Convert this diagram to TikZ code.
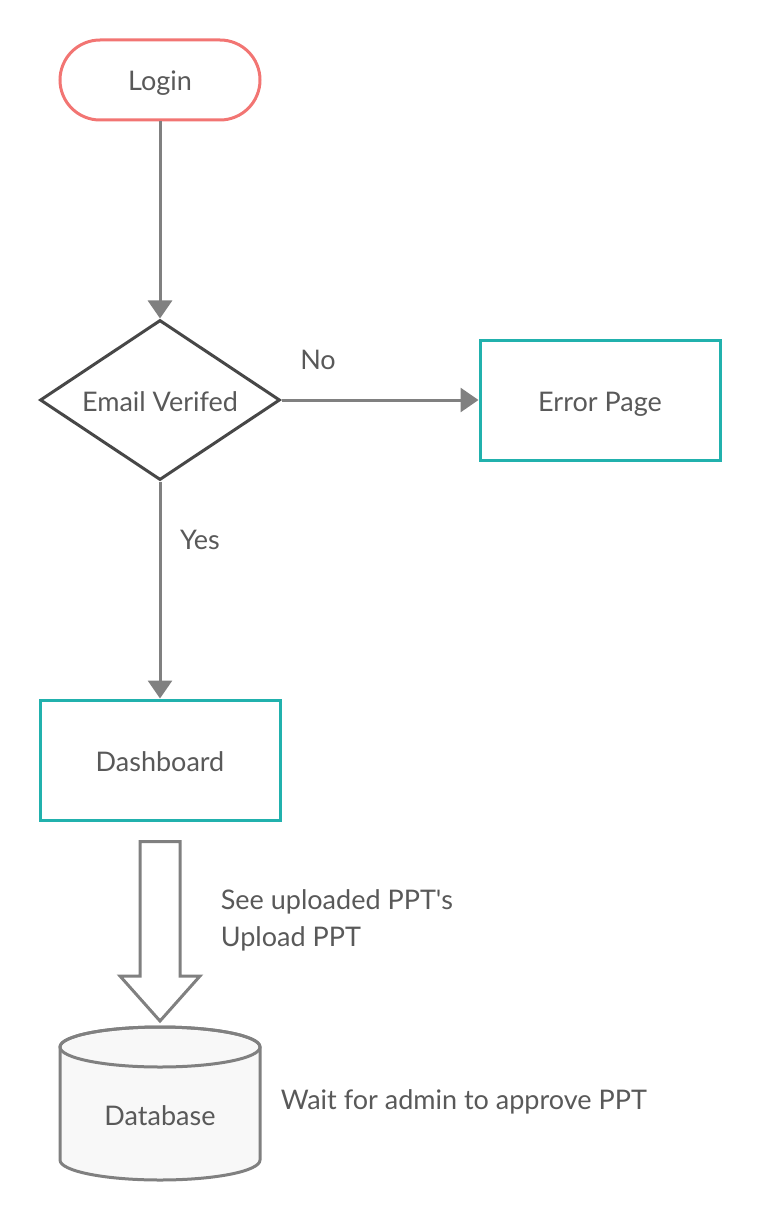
\documentclass[tikz,border=0pt]{standalone}
\usepackage{fontspec}
\setmainfont{Lato}
\usetikzlibrary{shapes.geometric,arrows.meta,calc}
\definecolor{salmon}{HTML}{F27573}
\definecolor{tealline}{HTML}{21B1AD}
\definecolor{darkline}{HTML}{474747}
\definecolor{arrowgray}{HTML}{808080}
\definecolor{textgray}{HTML}{595959}
\definecolor{dbfill}{HTML}{F8F8F8}

\begin{document}
\begin{tikzpicture}[x=1pt, y=-1pt, line width=3pt, text=textgray,
    font=\fontsize{27}{37}\selectfont,
    flow/.style={draw=arrowgray, -{Triangle[length=18pt, width=24pt]}},
    shapetext/.style={text height=22pt, text depth=0pt},
    pagebox/.style={shapetext, draw=tealline, rectangle, minimum width=240, minimum height=120}]
  \useasboundingbox (0,0) rectangle (760,1220);
  \node (login) [shapetext, draw=salmon, rectangle, rounded corners=40pt, minimum width=200, minimum height=80] at (160,80) {Login};
  \node (check) [shapetext, draw=darkline, diamond, aspect=1.5, inner sep=0pt, minimum width=240, minimum height=160] at (160,400) {Email Verifed};
  \node (error) [pagebox] at (600,400) {Error Page};
  \node (dash) [pagebox] at (160,760) {Dashboard};
  % database drum
  \draw [draw=arrowgray, fill=dbfill] (60,1047) -- (60,1160) arc[start angle=180, end angle=0, x radius=100, y radius=20]
    -- (260,1047) arc[start angle=0, end angle=-180, x radius=100, y radius=20] -- cycle;
  \draw [draw=arrowgray] (160,1047) ellipse [x radius=100, y radius=20];
  \coordinate (dbtop) at (160,1027);
  \node (db) [shapetext] at (160,1114) {Database};
  \draw [flow] (login) -- (check);
  \draw [flow] (check) -- (error);
  \draw [flow] (check) -- (dash);
  \node (no) at (318,360) {No};
  \node (yes) at (200,540) {Yes};
  % block arrow from dashboard down to the database
  \coordinate (tip) at ($(dbtop)+(0,-6)$);
  \draw [draw=arrowgray, fill=white, line join=miter] (tip) -- ++(-40,-45) -- ++(20,0) -- ($(dash.south)+(-20,20)$) -- ($(dash.south)+(20,20)$) -- ($(tip)+(20,-45)$) -- ++(20,0) -- cycle;
  \node (upload) [anchor=west, align=left] at (216,920) {See uploaded PPT\textquotesingle s\\Upload PPT};
  \node (wait) [anchor=west] at (276,1102) {Wait for admin to approve PPT};
\end{tikzpicture}
\end{document}
